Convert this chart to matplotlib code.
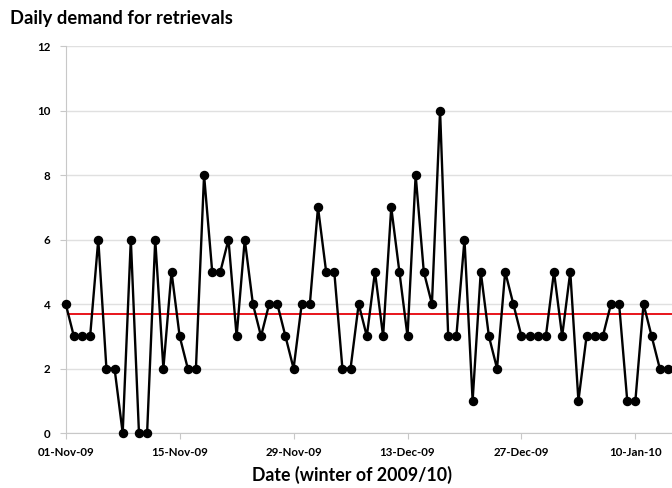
import matplotlib
matplotlib.use("Agg")
import matplotlib.pyplot as plt
import matplotlib.dates as mdates
import pandas as pd

plt.rcParams['font.family'] = ['Lato', 'DejaVu Sans']

start_date = "2009-11-01"
demand = [4, 3, 3, 3, 6, 2, 2, 0, 6, 0,
          0, 6, 2, 5, 3, 2, 2, 8, 5, 5,
          6, 3, 6, 4, 3, 4, 4, 3, 2, 4,
          4, 7, 5, 5, 2, 2, 4, 3, 5, 3,
          7, 5, 3, 8, 5, 4, 10, 3, 3, 6,
          1, 5, 3, 2, 5, 4, 3, 3, 3, 3,
          5, 3, 5, 1, 3, 3, 3, 4, 4, 1,
          1, 4, 3, 2, 2]
tick_dates = ["2009-11-01", "2009-11-15", "2009-11-29", "2009-12-13",
              "2009-12-27", "2010-01-10"]
y_ticks = [0, 2, 4, 6, 8, 10, 12]

dates = pd.date_range(start_date, periods=len(demand), freq="D")
mean_val = sum(demand) / len(demand)

fig = plt.figure(figsize=(6.72, 4.88), dpi=100)
ax = fig.add_axes([0.0978, 0.1127, 0.9022, 0.793])

ax.plot(dates, demand, color="black", lw=1.7, marker="o", ms=5.8,
        clip_on=False, zorder=3)
ax.axhline(mean_val, color="#e8141b", lw=1.4, zorder=2)

ax.set_ylim(0, 12)
ax.set_yticks(y_ticks)
ax.set_xlim(pd.Timestamp(start_date), pd.Timestamp(start_date) + pd.Timedelta(days=74.5))
ax.set_xticks(pd.to_datetime(tick_dates))
ax.xaxis.set_major_formatter(mdates.DateFormatter("%d-%b-%y"))

ax.grid(axis="y", color="#e0e0e0", lw=1)
ax.set_axisbelow(True)
for s in ["top", "right"]:
    ax.spines[s].set_visible(False)
for s in ["left", "bottom"]:
    ax.spines[s].set_color("#c8c8c8")
ax.tick_params(axis="both", colors="#c8c8c8", length=4, labelcolor="black",
               labelsize=8.3)
ax.tick_params(axis="y", pad=7)
ax.tick_params(axis="x", pad=6)
for lab in ax.get_xticklabels() + ax.get_yticklabels():
    lab.set_fontweight("bold")

ax.set_xlabel("Date (winter of 2009/10)", fontsize=12.8, fontweight="bold")
ax.xaxis.set_label_coords(0.472, -0.085)

fig.text(0.015, 0.962, "Daily demand for retrievals", fontsize=13.2,
         fontweight="bold", ha="left", va="center")

fig.savefig("out.png", dpi=100)
